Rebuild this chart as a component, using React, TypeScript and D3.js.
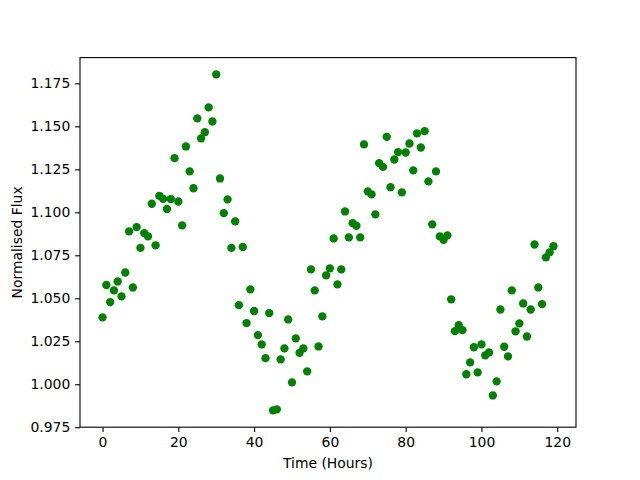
import React, { useEffect, useRef } from "react";
import * as d3 from "d3";

// hours since start of observation
const hours: number[] = d3.range(0, 120);

// normalised flux for each hour
const flux: number[] = [
  1.0389, 1.0577, 1.0478, 1.0546, 1.0598, 1.0511, 1.065, 1.0889, 1.0563, 1.0914,
  1.0793, 1.0879, 1.086, 1.105, 1.0808, 1.1096, 1.1078, 1.1019, 1.1077, 1.1315,
  1.1063, 1.0924, 1.1383, 1.1238, 1.114, 1.1546, 1.143, 1.1466, 1.161, 1.1528,
  1.1802, 1.1197, 1.0995, 1.1075, 1.0793, 1.0947, 1.046, 1.0798, 1.0356, 1.0552,
  1.0426, 1.0286, 1.0232, 1.0152, 1.0414, 0.9848, 0.9854, 1.0145, 1.0209, 1.0377,
  1.0011, 1.0267, 1.0183, 1.0209, 1.0075, 1.0668, 1.0546, 1.022, 1.0395, 1.0633,
  1.0674, 1.0848, 1.0581, 1.0668, 1.1005, 1.0854, 1.0937, 1.0922, 1.0854, 1.1395,
  1.1122, 1.1104, 1.0988, 1.1286, 1.1264, 1.1439, 1.1146, 1.1307, 1.135, 1.1116,
  1.1348, 1.14, 1.1244, 1.1459, 1.1377, 1.1472, 1.118, 1.093, 1.1238, 1.086,
  1.084, 1.0866, 1.0494, 1.0309, 1.0344, 1.0315, 1.0058, 1.0127, 1.0215, 1.0069,
  1.0232, 1.0168, 1.0185, 0.9935, 1.0017, 1.0435, 1.0218, 1.0162, 1.0546, 1.0308,
  1.0354, 1.047, 1.0278, 1.0435, 1.0813, 1.0563, 1.0466, 1.0738, 1.0767, 1.0803,
];

const xTicks: number[] = [0, 20, 40, 60, 80, 100, 120];
const yTicks: number[] = [0.975, 1.0, 1.025, 1.05, 1.075, 1.1, 1.125, 1.15, 1.175];

const xLabel = "Time (Hours)";
const yLabel = "Normalised Flux";

// pad a domain by 5% on each side, like matplotlib does
function padded(values: number[]): [number, number] {
  const [lo, hi] = d3.extent(values) as [number, number];
  const m = (hi - lo) * 0.05;
  return [lo - m, hi + m];
}

export default function App() {
  const ref = useRef<SVGSVGElement>(null);

  useEffect(() => {
    const W = 640, H = 480;
    const margin = { top: 57.6, right: 64, bottom: 52.8, left: 80 };
    const w = W - margin.left - margin.right,
      h = H - margin.top - margin.bottom;
    const tick = 4.86; // 3.5pt
    const font = "DejaVu Sans, sans-serif";
    const fontSize = 13.9;

    const svg = d3.select(ref.current);
    svg.selectAll("*").remove();

    const g = svg.append("g").attr("transform", `translate(${margin.left},${margin.top})`);

    const x = d3.scaleLinear().domain(padded(hours)).range([0, w]);
    const y = d3.scaleLinear().domain(padded(flux)).range([h, 0]);

    // points
    g.selectAll("circle")
      .data(hours)
      .join("circle")
      .attr("cx", (d) => x(d))
      .attr("cy", (d, i) => y(flux[i]))
      .attr("r", 4.17)
      .attr("fill", "#008000");

    // x axis
    const xAxis = g.append("g")
      .attr("transform", `translate(0,${h})`)
      .call(d3.axisBottom(x).tickValues(xTicks).tickSize(tick).tickPadding(tick).tickFormat(d3.format("d")));
    // y axis
    const yAxis = g.append("g")
      .call(d3.axisLeft(y).tickValues(yTicks).tickSize(tick).tickPadding(tick).tickFormat(d3.format(".3f")));

    [xAxis, yAxis].forEach((a) => {
      a.select(".domain").remove();
      a.selectAll("line").attr("stroke", "#000").attr("stroke-width", 1.1);
      a.selectAll("text").attr("font-family", font).attr("font-size", fontSize).attr("fill", "#000");
    });

    // frame
    g.append("rect")
      .attr("width", w)
      .attr("height", h)
      .attr("fill", "none")
      .attr("stroke", "#000")
      .attr("stroke-width", 1.1);

    // axis labels
    svg.append("text")
      .attr("x", margin.left + w / 2)
      .attr("y", 467.5)
      .attr("text-anchor", "middle")
      .attr("font-family", font)
      .attr("font-size", fontSize)
      .text(xLabel);

    svg.append("text")
      .attr("transform", `translate(21.5,${margin.top + h / 2}) rotate(-90)`)
      .attr("text-anchor", "middle")
      .attr("font-family", font)
      .attr("font-size", fontSize)
      .text(yLabel);
  }, []);

  return (
    <svg
      ref={ref}
      width={640}
      height={480}
      style={{ position: "absolute", left: 0, top: 0, background: "#fff" }}
    />
  );
}
